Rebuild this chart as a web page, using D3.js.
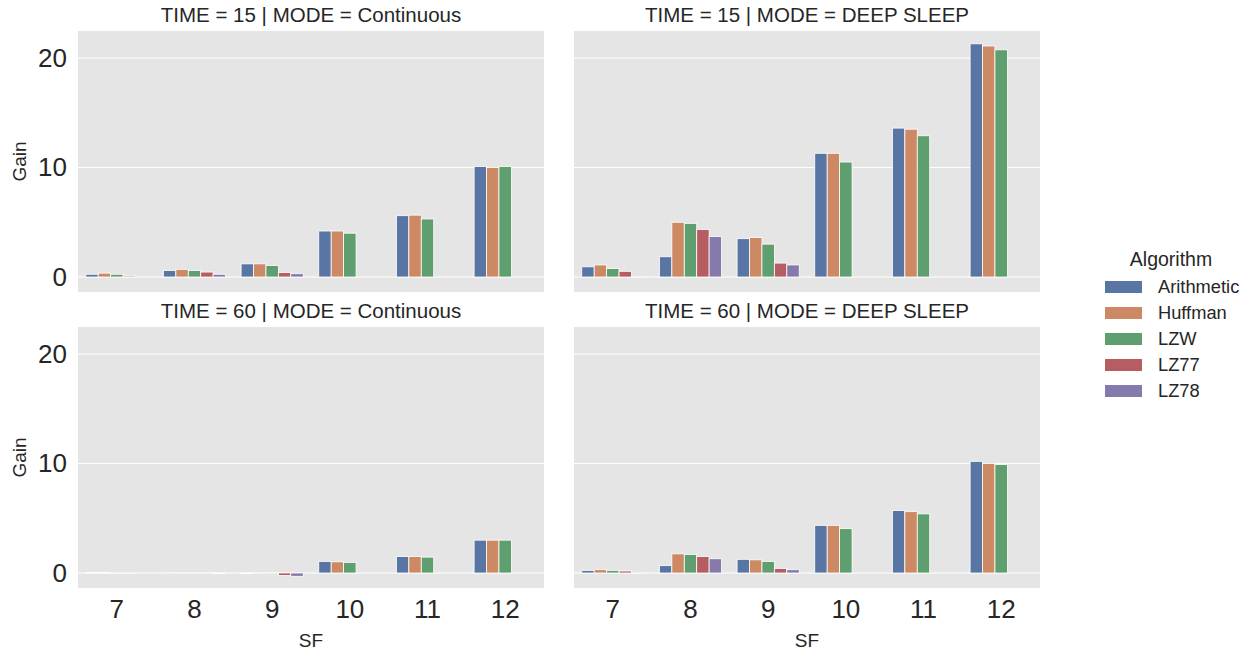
<!DOCTYPE html>
<html><head><meta charset="utf-8">
<script src="https://cdn.jsdelivr.net/npm/d3@7"></script>
<style>body{margin:0;background:#fff;} text{font-family:"Liberation Sans",Arial,sans-serif;fill:#262626;}</style>
</head><body>
<svg id="c" width="1255" height="655"></svg>
<script>
const sfs = ["7","8","9","10","11","12"];
const algorithms = ["Arithmetic","Huffman","LZW","LZ77","LZ78"];
const colors = ["#5975a4","#cc8963","#5f9e6e","#b55d60","#857aab"];
const yTicks = [0,10,20];
const panelTitles = ["TIME = 15 | MODE = Continuous","TIME = 15 | MODE = DEEP SLEEP","TIME = 60 | MODE = Continuous","TIME = 60 | MODE = DEEP SLEEP"];
// values per algorithm, per SF (null = missing)
const t15cont = {
  Arithmetic:[0.25,0.6,1.2,4.2,5.6,10.1],
  Huffman:[0.35,0.7,1.2,4.2,5.65,10.0],
  LZW:[0.25,0.6,1.05,4.0,5.3,10.1],
  LZ77:[0.1,0.45,0.4,null,null,null],
  LZ78:[0.0,0.25,0.3,null,null,null]
};
const t15deep = {
  Arithmetic:[0.93,1.85,3.5,11.3,13.6,21.3],
  Huffman:[1.1,5.0,3.6,11.3,13.5,21.1],
  LZW:[0.77,4.9,3.0,10.5,12.9,20.75],
  LZ77:[0.52,4.35,1.27,null,null,null],
  LZ78:[0.03,3.7,1.1,null,null,null]
};
const t60cont = {
  Arithmetic:[0.04,-0.02,-0.06,1.06,1.5,3.0],
  Huffman:[0.04,-0.02,-0.02,1.02,1.5,3.0],
  LZW:[0.03,-0.03,-0.05,0.97,1.45,3.0],
  LZ77:[0.01,-0.04,-0.22,null,null,null],
  LZ78:[0.0,-0.06,-0.3,null,null,null]
};
const t60deep = {
  Arithmetic:[0.24,0.67,1.25,4.35,5.7,10.2],
  Huffman:[0.3,1.75,1.2,4.35,5.6,10.0],
  LZW:[0.24,1.7,1.06,4.05,5.4,9.9],
  LZ77:[0.18,1.5,0.42,null,null,null],
  LZ78:[0.02,1.3,0.3,null,null,null]
};
const panelData = [t15cont,t15deep,t60cont,t60deep];

const svg = d3.select("#c");
const panelW = 466, panelH = 261;
const lefts = [78,574], tops = [31,327];
const y = d3.scaleLinear().domain([-1.37,22.47]).range([panelH,0]);
const x = d3.scaleBand().domain(sfs).range([0,panelW]).padding(0);
const xh = d3.scaleBand().domain(algorithms).range([0,x.bandwidth()*0.8]);
const color = d3.scaleOrdinal().domain(algorithms).range(colors);

panelData.forEach((data,i)=>{
  const col=i%2,row=Math.floor(i/2);
  const g = svg.append("g").attr("transform",`translate(${lefts[col]},${tops[row]})`);
  g.append("rect").attr("width",panelW).attr("height",panelH).attr("fill","#e5e5e5");
  g.selectAll("line.grid").data(yTicks).join("line").attr("class","grid")
    .attr("x1",0).attr("x2",panelW).attr("y1",d=>y(d)).attr("y2",d=>y(d))
    .attr("stroke","#fff").attr("stroke-width",1);
  const recs=[];
  algorithms.forEach(a=>data[a].forEach((v,j)=>{ if(v!==null) recs.push({a,sf:sfs[j],v}); }));
  g.selectAll("rect.bar").data(recs).join("rect").attr("class","bar")
    .attr("x",d=>x(d.sf)+x.bandwidth()*0.1+xh(d.a))
    .attr("width",xh.bandwidth())
    .attr("y",d=>Math.min(y(d.v),y(0)))
    .attr("height",d=>Math.abs(y(d.v)-y(0)))
    .attr("fill",d=>color(d.a)).attr("stroke","#fff").attr("stroke-width",0.8);
  g.append("text").attr("x",panelW/2).attr("y",-9).attr("text-anchor","middle")
    .style("font-size","20.5px").text(panelTitles[i]);
  if(col===0){
    const ya = g.append("g").call(d3.axisLeft(y).tickValues(yTicks).tickSize(0).tickPadding(11));
    ya.select(".domain").remove();
    ya.selectAll("text").style("font-size","26px").attr("fill","#262626").style("font-family","Liberation Sans, Arial, sans-serif");
    g.append("text").attr("transform",`translate(-52,${panelH/2}) rotate(-90)`).attr("text-anchor","middle")
      .style("font-size","19px").text("Gain");
  }
  if(row===1){
    const xa = g.append("g").attr("transform",`translate(0,${panelH})`).call(d3.axisBottom(x).tickSize(0).tickPadding(12));
    xa.select(".domain").remove();
    xa.selectAll("text").style("font-size","26px").attr("fill","#262626").style("font-family","Liberation Sans, Arial, sans-serif");
    g.append("text").attr("x",panelW/2).attr("y",panelH+59).attr("text-anchor","middle")
      .style("font-size","19px").text("SF");
  }
});

// legend
const lg = svg.append("g").attr("transform","translate(1105,0)");
lg.append("text").attr("x",66).attr("y",266).attr("text-anchor","middle").style("font-size","19.5px").text("Algorithm");
algorithms.forEach((a,k)=>{
  lg.append("rect").attr("x",0).attr("y",281+k*26).attr("width",37).attr("height",12).attr("fill",color(a));
  lg.append("text").attr("x",53).attr("y",293+k*26).style("font-size","18.3px").text(a);
});
</script>
</body></html>
